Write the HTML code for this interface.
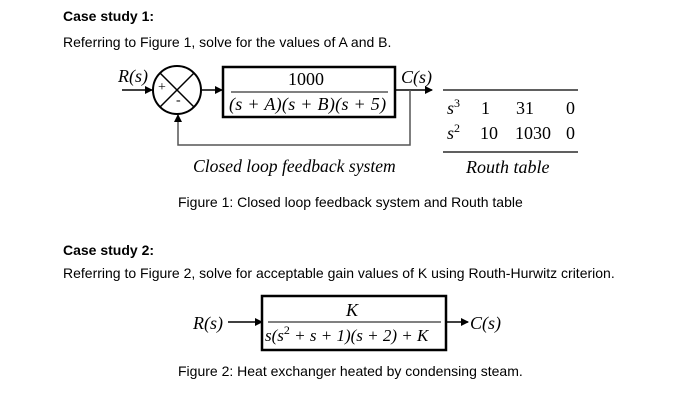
<!DOCTYPE html>
<html><head><style>
body{margin:0;width:700px;height:408px;background:#fff;position:relative;overflow:hidden;font-family:"Liberation Sans",sans-serif;color:#000}
.t{position:absolute;white-space:nowrap;font-size:14px}
.m{position:absolute;white-space:nowrap;font-family:"Liberation Serif",serif;font-style:italic;font-size:18px;line-height:20px}
.n{position:absolute;white-space:nowrap;font-family:"Liberation Serif",serif;font-size:17px;line-height:20px}
sup{font-size:12px;font-style:normal;vertical-align:0;position:relative;top:-7px}
</style></head><body>
<div class="t" style="left:63px;top:8px;font-weight:bold">Case study 1:</div>
<div class="t" style="left:63px;top:34px">Referring to Figure 1, solve for the values of A and B.</div>
<svg width="700" height="408" style="position:absolute;left:0;top:0">
<defs><marker id="a" markerWidth="8" markerHeight="8" refX="7" refY="4" orient="auto" markerUnits="userSpaceOnUse"><path d="M0,0L8,4L0,8z"/></marker></defs>
<g stroke="#000" stroke-width="1.5" fill="none">
<line x1="122" y1="90" x2="152" y2="90" marker-end="url(#a)"/>
<circle cx="177" cy="90" r="24" stroke-width="2"/>
<line x1="160" y1="73" x2="194" y2="107"/><line x1="194" y1="73" x2="160" y2="107"/>
<line x1="202" y1="90" x2="222" y2="90" marker-end="url(#a)"/>
<rect x="223" y="67" width="172" height="50" stroke-width="2.5"/>
<line x1="231" y1="92" x2="388" y2="92" stroke-width="1"/>
<line x1="395" y1="90" x2="432" y2="90" marker-end="url(#a)"/>
<polyline points="410,90 410,145 178,145 178,115" stroke="#555" marker-end="url(#a)"/>
<line x1="443" y1="90" x2="578" y2="90" stroke-width="1.2"/>
<line x1="443" y1="152" x2="578" y2="152" stroke-width="1.2"/>
<line x1="228" y1="322" x2="262" y2="322" marker-end="url(#a)"/>
<rect x="262" y="296" width="184" height="54" stroke-width="2.5"/>
<line x1="268" y1="322" x2="441" y2="322" stroke-width="1"/>
<line x1="446" y1="322" x2="468" y2="322" marker-end="url(#a)"/>
</g></svg>
<div class="m" style="left:118px;top:66px">R(s)</div>
<div class="n" style="left:158px;top:78px;font-size:14px">+</div>
<div class="n" style="left:176px;top:91px;font-size:14px">-</div>
<div class="n" style="left:288px;top:69px;font-size:18px">1000</div>
<div class="m" style="left:229px;top:94px;letter-spacing:0.3px">(s + A)(s + B)(s + 5)</div>
<div class="m" style="left:401px;top:67px">C(s)</div>
<div class="m" style="left:193px;top:156px;font-size:17.6px">Closed loop feedback system</div>
<div class="m" style="left:447px;top:98px">s<sup>3</sup></div>
<div class="n" style="left:481px;top:98px;font-size:18px">1</div>
<div class="n" style="left:516px;top:98px;font-size:18px">31</div>
<div class="n" style="left:566px;top:98px;font-size:18px">0</div>
<div class="m" style="left:447px;top:123px">s<sup>2</sup></div>
<div class="n" style="left:480px;top:123px;font-size:18px">10</div>
<div class="n" style="left:515px;top:123px;font-size:18px">1030</div>
<div class="n" style="left:566px;top:123px;font-size:18px">0</div>
<div class="m" style="left:466px;top:157px">Routh table</div>
<div class="t" style="left:178px;top:194px">Figure 1: Closed loop feedback system and Routh table</div>
<div class="t" style="left:63px;top:242px;font-weight:bold">Case study 2:</div>
<div class="t" style="left:63px;top:265px">Referring to Figure 2, solve for acceptable gain values of K using Routh-Hurwitz criterion.</div>
<div class="m" style="left:193px;top:313px">R(s)</div>
<div class="m" style="left:346px;top:300px">K</div>
<div class="m" style="left:265px;top:326px;font-size:17px">s(s<sup>2</sup> + s + 1)(s + 2) + K</div>
<div class="m" style="left:470px;top:313px">C(s)</div>
<div class="t" style="left:178px;top:363px">Figure 2: Heat exchanger heated by condensing steam.</div>
</body></html>
